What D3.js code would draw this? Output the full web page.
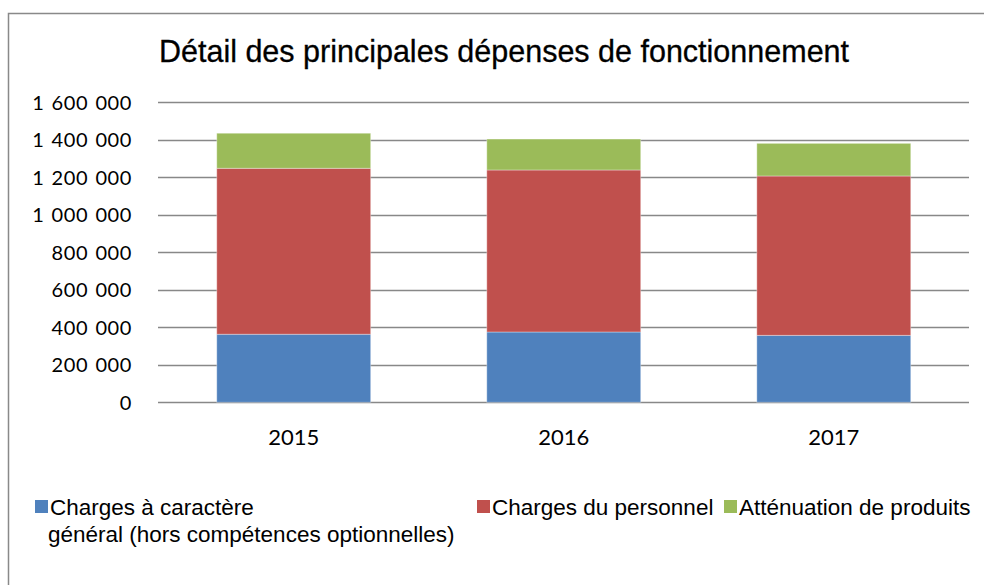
<!DOCTYPE html>
<html>
<head>
<meta charset="utf-8">
<script src="https://cdn.jsdelivr.net/npm/d3@7"></script>
<style>
  body { margin: 0; background: #fff; }
  svg { display: block; }
</style>
</head>
<body>
<script>
// Data
var years = ['2015', '2016', '2017'];
var chargesGenerales = [363000, 375000, 357000];
var chargesPersonnel = [885000, 864000, 850000];
var attenuation = [187000, 165000, 174000];
var legendLabels = [['Charges à caractère', 'général (hors compétences optionnelles)'],
                    ['Charges du personnel'], ['Atténuation de produits']];
var yTicks = [0, 200000, 400000, 600000, 800000, 1000000, 1200000, 1400000, 1600000];

var colors = ['#4f81bd', '#c0504d', '#9bbb59'];

var w = 984,
    h = 585;

var svg = d3.select('body')
            .append('svg')
            .attr('width', w)
            .attr('height', h);

// chart frame (runs off the right edge like the original)
svg.append('rect')
   .attr('x', 8.5)
   .attr('y', 13.5)
   .attr('width', 1000)
   .attr('height', 600)
   .attr('fill', 'none')
   .attr('stroke', '#898989')
   .attr('stroke-width', 1.5);

svg.append('text')
   .text('Détail des principales dépenses de fonctionnement')
   .attr('x', 504)
   .attr('y', 62)
   .attr('text-anchor', 'middle')
   .attr('font-family', '"Liberation Sans", Arial, sans-serif')
   .attr('font-size', '30.5px')
   .attr('stroke', '#000')
   .attr('stroke-width', 0.3)
   .attr('fill', '#000');

var table = years.map(function(y, i) {
  return { year: y, s0: chargesGenerales[i], s1: chargesPersonnel[i], s2: attenuation[i] };
});
var stacked = d3.stack().keys(['s0', 's1', 's2'])(table);

var xScale = d3.scaleBand()
               .domain(years)
               .range([158.7, 968.8])
               .paddingInner(0.43)
               .paddingOuter(0.215);

var yScale = d3.scaleLinear()
               .domain([0, 1600000])
               .range([402.3, 102.3]);

var fmt = function(d) {
  return d3.format(',')(d).replace(/,/g, ' ');
};

// gridlines
svg.selectAll('line.grid')
   .data(yTicks)
   .enter()
   .append('line')
   .attr('class', 'grid')
   .attr('x1', 158)
   .attr('x2', 969)
   .attr('y1', function(d) { return Math.round(yScale(d)) + 0.5; })
   .attr('y2', function(d) { return Math.round(yScale(d)) + 0.5; })
   .attr('stroke', '#888')
   .attr('stroke-width', 1.5);

// y labels
svg.selectAll('text.ylab')
   .data(yTicks)
   .enter()
   .append('text')
   .attr('class', 'ylab')
   .text(fmt)
   .attr('x', 132)
   .attr('y', function(d) { return yScale(d) + 7.5; })
   .attr('text-anchor', 'end')
   .attr('font-family', 'Lato, "Open Sans", sans-serif')
   .attr('font-size', '20px')
   .attr('letter-spacing', '0.6px')
   .attr('word-spacing', '1.5px')
   .attr('fill', '#000');

// stacked bars
svg.selectAll('g.series')
   .data(stacked)
   .enter()
   .append('g')
   .attr('class', 'series')
   .attr('fill', function(d, i) { return colors[i]; })
   .selectAll('rect')
   .data(function(d) { return d; })
   .enter()
   .append('rect')
   .attr('x', function(d) { return xScale(d.data.year); })
   .attr('y', function(d) { return yScale(d[1]); })
   .attr('width', xScale.bandwidth())
   .attr('height', function(d) { return yScale(d[0]) - yScale(d[1]); })
   .attr('stroke', 'rgba(255,255,255,0.35)')
   .attr('stroke-width', 1);

// x labels
svg.selectAll('text.xlab')
   .data(years)
   .enter()
   .append('text')
   .attr('class', 'xlab')
   .text(function(d) { return d; })
   .attr('x', function(d) { return xScale(d) + xScale.bandwidth() / 2; })
   .attr('y', 445)
   .attr('text-anchor', 'middle')
   .attr('font-family', 'Lato, "Open Sans", sans-serif')
   .attr('font-size', '22px')
   .attr('fill', '#000');

// legend
var legendX = [35, 477, 724];
var legend = svg.selectAll('g.legend')
   .data(legendLabels)
   .enter()
   .append('g')
   .attr('class', 'legend')
   .attr('transform', function(d, i) { return 'translate(' + legendX[i] + ',0)'; });

legend.append('rect')
   .attr('x', 0)
   .attr('y', 500)
   .attr('width', 13)
   .attr('height', 13)
   .attr('fill', function(d, i) { return colors[i]; });

legend.append('text')
   .attr('font-family', '"Liberation Sans", Arial, sans-serif')
   .attr('font-size', '22.5px')
   .attr('fill', '#000')
   .selectAll('tspan')
   .data(function(d) { return d; })
   .enter()
   .append('tspan')
   .attr('x', function(d, i) { return i === 0 ? 15 : 13; })
   .attr('y', function(d, i) { return 515 + i * 27; })
   .text(function(d) { return d; });
</script>
</body>
</html>
